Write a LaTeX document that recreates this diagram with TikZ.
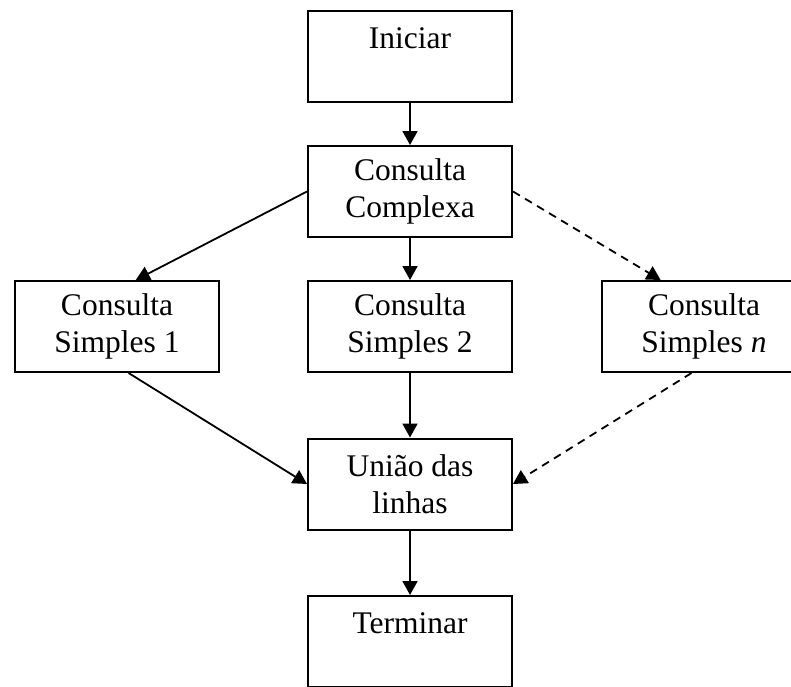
\documentclass[tikz,border=0pt]{standalone}
\usepackage{fontspec}
\setmainfont{Liberation Serif}
\usetikzlibrary{arrows.meta}

\begin{document}
\begin{tikzpicture}[x=1pt,y=1pt,
  stagebox/.style={draw, line width=2pt, minimum width=204pt, minimum height=91pt,
    inner sep=0pt, align=center, font=\fontsize{31.5}{36.5}\selectfont},
  flow/.style={line width=1.8pt, -{Triangle[length=14pt,width=15pt]}},
  optflow/.style={flow, dash pattern=on 8pt off 6pt}]
  \useasboundingbox (0,0) rectangle (791,-686);
  \clip (0,0) rectangle (791,-686);

  % processing stages
  \node[stagebox] (ini) at (410,-56)    {Iniciar\\\mbox{}};
  \node[stagebox] (cc)  at (410,-191.5) {Consulta\\Complexa};
  \node[stagebox] (s1)  at (117,-326.5) {Consulta\\Simples 1};
  \node[stagebox] (s2)  at (410,-326.5) {Consulta\\Simples 2};
  \node[stagebox] (sn)  at (704,-326.5) {Consulta\\Simples \textit{n}};
  \node[stagebox] (un)  at (410,-484)   {União das\\linhas};
  \node[stagebox] (te)  at (410,-641.5) {Terminar\\\mbox{}};

  % control flow
  \draw[flow]    (ini.south) -- (cc.north);
  \draw[flow]    (cc.west)   -- (s1.68);
  \draw[flow]    (cc.south)  -- (s2.north);
  \draw[optflow] (cc.east)   -- (sn.133);
  \draw[flow]    (s1.-76)    -- (un.west);
  \draw[flow]    (s2.south)  -- (un.north);
  \draw[optflow] (sn.-105)   -- (un.east);
  \draw[flow]    (un.south)  -- (te.north);
\end{tikzpicture}
\end{document}
